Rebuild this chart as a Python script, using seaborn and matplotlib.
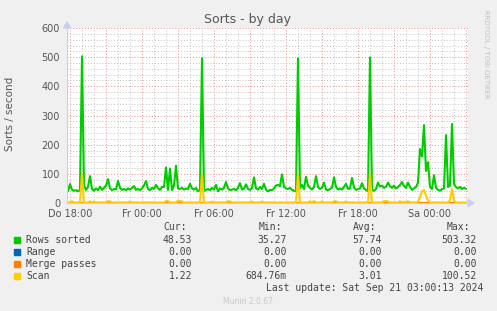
import numpy as np
import pandas as pd
import matplotlib
matplotlib.use("Agg")
import matplotlib.pyplot as plt
import matplotlib.dates as mdates
from matplotlib.ticker import MultipleLocator
import seaborn as sns

# ---------------- data ----------------
start_time = "2024-09-19 17:50"
step = "10min"

rows_sorted = [
    40, 65, 45, 42, 44, 40, 45, 503, 60, 45,
    55, 92, 48, 42, 50, 44, 56, 45, 52, 60,
    82, 50, 44, 48, 46, 76, 52, 45, 48, 44,
    50, 46, 52, 58, 45, 48, 44, 50, 60, 75,
    48, 44, 52, 48, 62, 50, 45, 55, 55, 122,
    45, 118, 44, 60, 128, 50, 48, 52, 46, 50,
    48, 66, 50, 46, 52, 40, 45, 496, 42, 45,
    48, 44, 52, 46, 62, 40, 50, 46, 52, 72,
    50, 44, 46, 48, 44, 52, 68, 46, 50, 64,
    48, 45, 52, 88, 50, 46, 55, 48, 66, 45,
    40, 45, 44, 50, 60, 62, 58, 98, 55, 50,
    48, 52, 45, 42, 40, 496, 50, 62, 48, 90,
    60, 52, 46, 55, 92, 55, 48, 52, 70, 46,
    44, 48, 52, 88, 55, 46, 50, 46, 55, 66,
    48, 50, 86, 52, 45, 48, 50, 68, 50, 45,
    40, 499, 44, 42, 48, 70, 56, 60, 52, 55,
    70, 58, 52, 60, 50, 55, 62, 72, 58, 52,
    70, 55, 45, 50, 55, 70, 185, 160, 267, 110,
    140, 55, 48, 95, 52, 45, 42, 48, 50, 233,
    55, 60, 271, 65, 55, 50, 55, 48, 52, 48.53,
]

range_vals = [0.0] * 200
merge_passes = [0.0] * 200

scan = [
    1.5, 1.5, 6, 1.5, 1.5, 1.5, 1.5, 100.5, 1.5, 1.5,
    1.5, 6, 1.5, 5, 1.5, 1.5, 1.5, 1.5, 1.5, 1.5,
    6, 6, 1.5, 1.5, 1.5, 1.5, 1.5, 1.5, 1.5, 1.5,
    1.5, 5, 1.5, 1.5, 1.5, 1.5, 1.5, 1.5, 1.5, 1.5,
    1.5, 1.5, 1.5, 1.5, 1.5, 1.5, 1.5, 1.5, 1.5, 7,
    7, 1.5, 1.5, 1.5, 1.5, 8, 6, 6, 1.5, 1.5,
    1.5, 1.5, 1.5, 1.5, 1.5, 1.5, 1.5, 99, 1.5, 1.5,
    1.5, 1.5, 5, 1.5, 1.5, 1.5, 1.5, 1.5, 1.5, 1.5,
    6, 6, 1.5, 1.5, 1.5, 1.5, 1.5, 1.5, 1.5, 1.5,
    1.5, 1.5, 5, 1.5, 1.5, 1.5, 1.5, 5, 1.5, 1.5,
    1.5, 1.5, 1.5, 1.5, 1.5, 1.5, 1.5, 1.5, 1.5, 1.5,
    1.5, 1.5, 1.5, 1.5, 1.5, 99, 1.5, 1.5, 1.5, 1.5,
    1.5, 6, 1.5, 7, 1.5, 1.5, 1.5, 5, 1.5, 1.5,
    1.5, 1.5, 1.5, 6, 6, 1.5, 1.5, 1.5, 1.5, 5,
    1.5, 1.5, 1.5, 1.5, 1.5, 1.5, 1.5, 1.5, 1.5, 1.5,
    1.5, 99, 1.5, 1.5, 1.5, 1.5, 1.5, 1.5, 6, 7,
    5, 1.5, 1.5, 1.5, 1.5, 1.5, 6, 1.5, 5, 1.5,
    6, 1.5, 1.5, 1.5, 1.5, 5, 20, 40, 45, 25,
    8, 1.5, 1.5, 1.5, 1.5, 1.5, 1.5, 1.5, 1.5, 1.5,
    1.5, 10, 48, 8, 1.5, 1.5, 1.5, 1.5, 1.5, 1.22,
]

series_names = ["Rows sorted", "Range", "Merge passes", "Scan"]
series_colors = ["#00CC00", "#0066B3", "#FF8000", "#FFCC00"]

x_tick_labels = ["Do 18:00", "Fr 00:00", "Fr 06:00", "Fr 12:00", "Fr 18:00", "Sa 00:00"]
x_tick_times = ["2024-09-19 18:00", "2024-09-20 00:00", "2024-09-20 06:00",
                "2024-09-20 12:00", "2024-09-20 18:00", "2024-09-21 00:00"]
y_ticks = [0, 100, 200, 300, 400, 500, 600]

stats_header = ["Cur:", "Min:", "Avg:", "Max:"]
stats = {
    "Rows sorted": ["48.53", "35.27", "57.74", "503.32"],
    "Range": ["0.00", "0.00", "0.00", "0.00"],
    "Merge passes": ["0.00", "0.00", "0.00", "0.00"],
    "Scan": ["1.22", "684.76m", "3.01", "100.52"],
}
last_update = "Last update: Sat Sep 21 03:00:13 2024"
title = "Sorts - by day"
y_label = "Sorts / second"
watermark = "RRDTOOL / TOBI OETIKER"
footer = "Munin 2.0.67"

# ---------------- build frame ----------------
times = pd.date_range(start_time, periods=len(rows_sorted), freq=step)
df = pd.DataFrame({
    "time": np.tile(times, 4),
    "value": rows_sorted + range_vals + merge_passes + scan,
    "series": np.repeat(series_names, len(times)),
})

# ---------------- figure ----------------
sns.set_style("white")
plt.rcParams["font.family"] = ["DejaVu Sans"]
W, H = 497, 311
fig = plt.figure(figsize=(W / 100, H / 100), dpi=100, facecolor="#F0F0F0")
px_l, px_r, px_t, px_b = 67, 468, 28, 203
ax = fig.add_axes([px_l / W, 1 - px_b / H, (px_r - px_l) / W, (px_b - px_t) / H])
ax.set_facecolor("white")

sns.lineplot(data=df, x="time", y="value", hue="series", hue_order=series_names,
             palette=series_colors, linewidth=1.5, legend=False, ax=ax,
             estimator=None, sort=False)

xmin = pd.Timestamp("2024-09-19 17:45")
xmax = pd.Timestamp("2024-09-21 03:10")
ax.set_xlim(xmin, xmax)
ax.set_ylim(0, 600)

# grid
major_x = pd.date_range("2024-09-19 18:00", "2024-09-21 03:00", freq="3h")
lab_map = dict(zip(pd.to_datetime(x_tick_times), x_tick_labels))
ax.set_xticks(major_x)
ax.set_xticklabels([lab_map.get(t, "") for t in major_x])
ax.xaxis.set_minor_locator(mdates.HourLocator(interval=1))
ax.set_yticks(y_ticks)
ax.yaxis.set_minor_locator(MultipleLocator(20))

ax.grid(which="minor", color="#C4C4C4", linestyle=(0, (1, 2)), linewidth=0.7)
ax.grid(which="major", color="#E49090", linestyle=(0, (1, 2)), linewidth=0.7)
ax.set_axisbelow(True)

ax.tick_params(axis="both", which="major", length=3, width=0.7, color="#E49090",
               labelsize=7, labelcolor="#555555", direction="inout")
ax.tick_params(axis="both", which="minor", length=3, width=0.7, color="#C4C4C4",
               direction="inout")
ax.tick_params(axis="y", which="major", pad=3.5)
ax.tick_params(axis="x", which="major", pad=2.5)

for s in ["top", "right"]:
    ax.spines[s].set_visible(False)
for s in ["left", "bottom"]:
    ax.spines[s].set_color("#C8D0F0")
    ax.spines[s].set_linewidth(0.8)

ax.set_xlabel("")
ax.set_ylabel("")

# axis arrows
fig.patches.append(plt.Polygon([[ (px_r + 0) / W, 1 - (px_b - 3.5) / H],
                                [ (px_r + 0) / W, 1 - (px_b + 3.5) / H],
                                [ (px_r + 6) / W, 1 - px_b / H]],
                               closed=True, transform=fig.transFigure,
                               color="#C8D0F0", zorder=5))
fig.patches.append(plt.Polygon([[ (px_l - 3.5) / W, 1 - px_t / H],
                                [ (px_l + 3.5) / W, 1 - px_t / H],
                                [ px_l / W, 1 - (px_t - 6) / H]],
                               closed=True, transform=fig.transFigure,
                               color="#C8D0F0", zorder=5))

# texts
fig.text(248 / W, 1 - 19 / H, title, ha="center", va="center", fontsize=9, color="#555555")
fig.text(10 / W, 1 - 114 / H, y_label, ha="center", va="center", rotation=90,
         fontsize=7.5, color="#555555")
fig.text(486 / W, 1 - 54 / H, watermark, ha="center", va="center", rotation=270,
         fontsize=5, color="#C0C0C0")

mono = "DejaVu Sans Mono"
fs = 7
tc = "#444444"
hdr_x = [187, 282, 376, 470]
val_x = [192, 287, 382, 477]
y0 = 227
for hx, h in zip(hdr_x, stats_header):
    fig.text(hx / W, 1 - y0 / H, h, ha="right", va="center", family=mono, fontsize=fs, color=tc)
for k, (name, col) in enumerate(zip(series_names, series_colors)):
    yy = y0 + 13 + 12 * k
    fig.patches.append(plt.Rectangle((14 / W, 1 - (yy + 3) / H), 6 / W, 6 / H,
                                     transform=fig.transFigure, color=col))
    fig.text(26 / W, 1 - yy / H, name, ha="left", va="center", family=mono, fontsize=fs, color=tc)
    for vx, v in zip(val_x, stats[name]):
        fig.text(vx / W, 1 - yy / H, v, ha="right", va="center", family=mono, fontsize=fs, color=tc)
fig.text(483 / W, 1 - 288 / H, last_update, ha="right", va="center", family=mono,
         fontsize=fs, color=tc)
fig.text(248 / W, 1 - 301 / H, footer, ha="center", va="center", fontsize=5.5, color="#C8C8C8")

fig.savefig("out.png", dpi=100, facecolor=fig.get_facecolor())
